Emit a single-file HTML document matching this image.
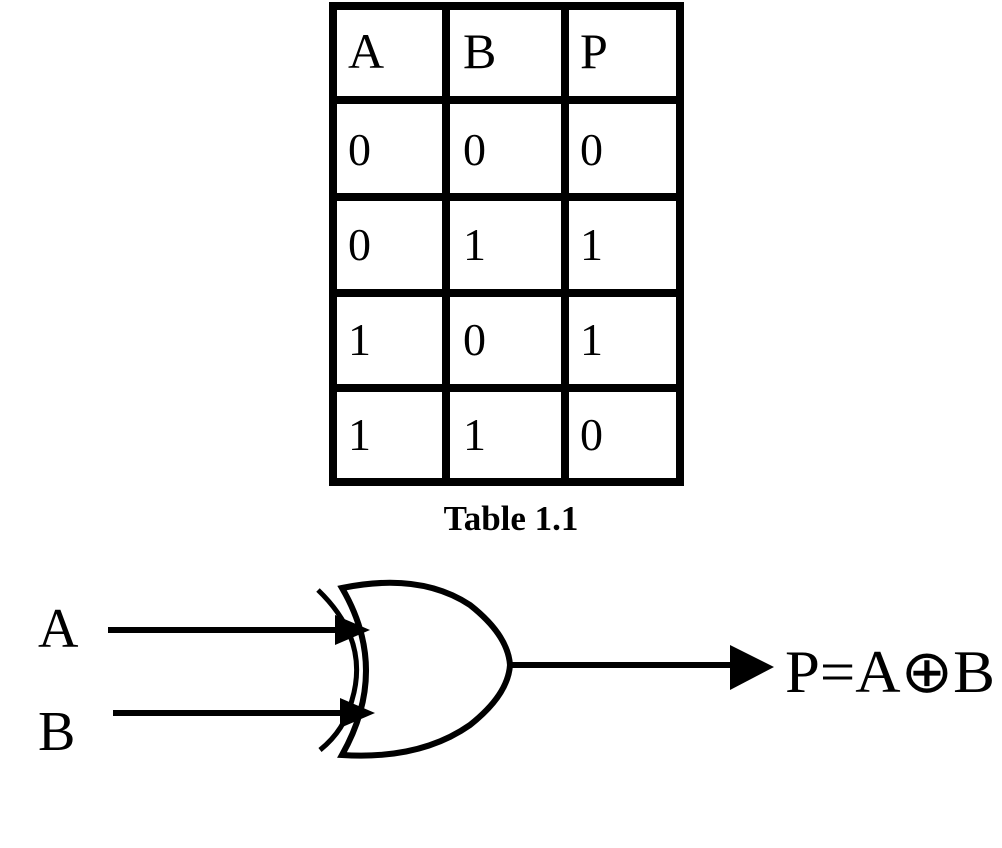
<!DOCTYPE html>
<html><head><style>
html,body{margin:0;padding:0;background:#fff;}
svg{display:block;}
</style></head><body>
<svg width="1002" height="848" viewBox="0 0 1002 848" xmlns="http://www.w3.org/2000/svg">
<g stroke="#000" stroke-width="8" fill="none">
<rect x="333" y="6" width="347" height="476"/>
<line x1="446" y1="6" x2="446" y2="482"/>
<line x1="565" y1="6" x2="565" y2="482"/>
<line x1="333" y1="100" x2="680" y2="100"/>
<line x1="333" y1="197" x2="680" y2="197"/>
<line x1="333" y1="293" x2="680" y2="293"/>
<line x1="333" y1="388" x2="680" y2="388"/>
</g>
<g font-family="Liberation Serif, serif" font-size="50" fill="#000">
<text x="348" y="68">A</text><text x="463" y="68">B</text><text x="580" y="68">P</text>
<g font-size="46">
<text x="348" y="165">0</text><text x="463" y="165">0</text><text x="580" y="165">0</text>
<text x="348" y="260">0</text><text x="463" y="260">1</text><text x="580" y="260">1</text>
<text x="348" y="355">1</text><text x="463" y="355">0</text><text x="580" y="355">1</text>
<text x="348" y="450">1</text><text x="463" y="450">1</text><text x="580" y="450">0</text>
</g>
</g>
<text x="511" y="530" text-anchor="middle" font-family="Liberation Serif, serif" font-weight="bold" font-size="35">Table 1.1</text>

<g font-family="Liberation Serif, serif" font-size="56" fill="#000">
<text x="38" y="647">A</text>
<text x="38" y="750">B</text>
<text x="785" y="692" textLength="210" lengthAdjust="spacingAndGlyphs" font-size="60">P=A⊕B</text>
</g>
<g stroke="#000" stroke-width="6" fill="none">
<line x1="108" y1="630" x2="345" y2="630"/>
<line x1="113" y1="713" x2="350" y2="713"/>
<line x1="510" y1="665" x2="740" y2="665"/>
<path d="M342,588 Q420,572 470,605 Q508,635 510,665 Q508,695 470,725 Q420,760 342,755 Q390,670 342,588 Z" fill="#fff"/>
<path d="M318,590 Q370,640 352,700 Q345,730 320,750" stroke-width="5"/>
</g>
<g fill="#000">
<polygon points="335,615 370,630 335,645"/>
<polygon points="340,698 375,713 340,728"/>
<polygon points="730,645 774,667 730,690"/>
</g>
</svg>
</body></html>
